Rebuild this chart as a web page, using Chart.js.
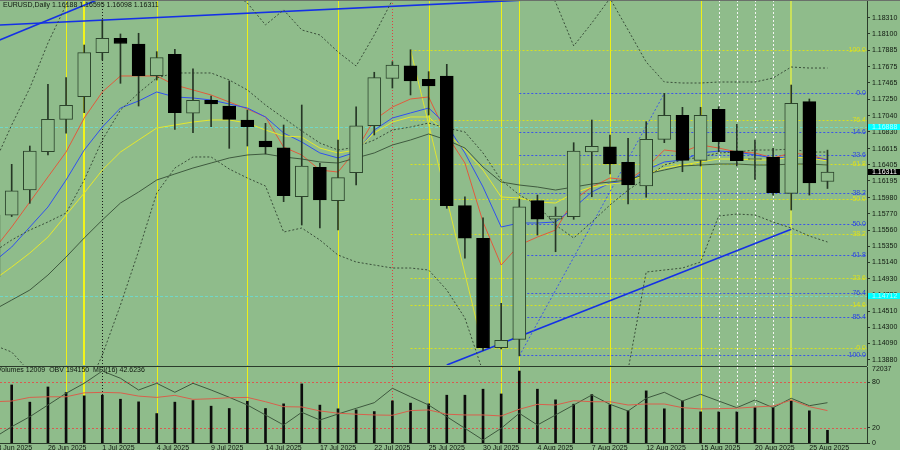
<!DOCTYPE html>
<html lang="en">
<head>
  <meta charset="UTF-8">
  <title>EURUSD,Daily</title>
  <script src="https://cdn.jsdelivr.net/npm/chart.js"></script>
  <style>
    html, body { margin: 0; padding: 0; background: #8fbc8b; }
    #wrap { position: relative; width: 900px; height: 450px; overflow: hidden; }
    #priceChart { position: absolute; left: 0; top: 0; }
    #volChart { position: absolute; left: 0; top: 366px; }
  </style>
</head>
<body>
  <div id="wrap">
    <canvas id="priceChart" width="900" height="366"></canvas>
    <canvas id="volChart" width="900" height="84"></canvas>
  </div>

  <script>
    const days = ['23 Jun 2025', '24 Jun 2025', '25 Jun 2025', '26 Jun 2025', '27 Jun 2025', '30 Jun 2025',
      '1 Jul 2025', '2 Jul 2025', '3 Jul 2025', '4 Jul 2025', '7 Jul 2025', '8 Jul 2025', '9 Jul 2025', '10 Jul 2025', '11 Jul 2025',
      '14 Jul 2025', '15 Jul 2025', '16 Jul 2025', '17 Jul 2025', '18 Jul 2025', '21 Jul 2025', '22 Jul 2025', '23 Jul 2025', '24 Jul 2025', '25 Jul 2025',
      '28 Jul 2025', '29 Jul 2025', '30 Jul 2025', '31 Jul 2025', '1 Aug 2025', '4 Aug 2025', '5 Aug 2025', '6 Aug 2025', '7 Aug 2025', '8 Aug 2025',
      '11 Aug 2025', '12 Aug 2025', '13 Aug 2025', '14 Aug 2025', '15 Aug 2025', '18 Aug 2025', '19 Aug 2025', '20 Aug 2025', '21 Aug 2025', '22 Aug 2025',
      '25 Aug 2025', '26 Aug 2025'];

    const opens = [1.14955, 1.15754, 1.16078, 1.16574, 1.16994, 1.17287, 1.17857, 1.18043, 1.17969, 1.17559,
      1.17836, 1.17072, 1.17240, 1.17166, 1.16985, 1.16713, 1.16626, 1.15991, 1.16372, 1.15940,
      1.16302, 1.16911, 1.17525, 1.17688, 1.17512, 1.17555, 1.15875, 1.15453, 1.14036, 1.14144,
      1.15940, 1.15699, 1.15732, 1.16570, 1.16639, 1.16437, 1.16130, 1.16735, 1.17046, 1.16463,
      1.17124, 1.16587, 1.16473, 1.16502, 1.16035, 1.17222, 1.16188];
    const highs = [1.15884, 1.16411, 1.16648, 1.17447, 1.17533, 1.17956, 1.18280, 1.18099, 1.18108, 1.17870,
      1.17901, 1.17646, 1.17296, 1.17490, 1.17114, 1.16942, 1.16920, 1.17179, 1.16424, 1.16726,
      1.17157, 1.17603, 1.17740, 1.17895, 1.17611, 1.17706, 1.15991, 1.15719, 1.14611, 1.15962,
      1.16013, 1.15858, 1.16691, 1.16985, 1.16791, 1.16748, 1.16963, 1.17330, 1.17149, 1.17149,
      1.17157, 1.16929, 1.16726, 1.16618, 1.17438, 1.17257, 1.16595];
    const lows = [1.14848, 1.15735, 1.15906, 1.16532, 1.16813, 1.17080, 1.17762, 1.17460, 1.17166, 1.17503,
      1.16864, 1.16820, 1.16898, 1.16618, 1.16648, 1.16545, 1.15927, 1.15625, 1.15586, 1.15560,
      1.16143, 1.16791, 1.17399, 1.17309, 1.17050, 1.15841, 1.15194, 1.14000, 1.14019, 1.13930,
      1.15495, 1.15279, 1.15699, 1.15991, 1.16285, 1.15897, 1.15984, 1.16691, 1.16315, 1.16389,
      1.16574, 1.16389, 1.16217, 1.16013, 1.15819, 1.16013, 1.16098];
    const closes = [1.15754, 1.16069, 1.16583, 1.16994, 1.17175, 1.17857, 1.18043, 1.17976, 1.17559, 1.17792,
      1.17080, 1.17240, 1.17192, 1.16994, 1.16898, 1.16635, 1.16004, 1.16389, 1.15949, 1.16238,
      1.16911, 1.17533, 1.17697, 1.17490, 1.17425, 1.15875, 1.15453, 1.14036, 1.14131, 1.15862,
      1.15699, 1.15741, 1.16583, 1.16644, 1.16415, 1.16143, 1.16735, 1.17046, 1.16463, 1.17046,
      1.16704, 1.16458, 1.16486, 1.16043, 1.17201, 1.16169, 1.16311];

    // moving averages and envelope
    const maRed = [1.15301, 1.15599, 1.15923, 1.16247, 1.16570, 1.17011, 1.17348, 1.17555, 1.17555, 1.17555,
      1.17438, 1.17374, 1.17309, 1.17218, 1.17127, 1.17024, 1.16635, 1.16532, 1.16337, 1.16311,
      1.16596, 1.16985, 1.17153, 1.17257, 1.17283, 1.16791, 1.16428, 1.15664, 1.15107, 1.15366,
      1.15469, 1.15560, 1.15949, 1.16117, 1.16234, 1.16208, 1.16363, 1.16596, 1.16570, 1.16661,
      1.16622, 1.16570, 1.16558, 1.16493, 1.16558, 1.16532, 1.16467];
    const maBlue = [1.15146, 1.15340, 1.15599, 1.15858, 1.16208, 1.16596, 1.16894, 1.17140, 1.17231, 1.17348,
      1.17283, 1.17270, 1.17244, 1.17192, 1.17140, 1.17024, 1.16817, 1.16700, 1.16558, 1.16493,
      1.16570, 1.16855, 1.17011, 1.17076, 1.17140, 1.16920, 1.16558, 1.16117, 1.15599, 1.15651,
      1.15651, 1.15664, 1.15845, 1.16052, 1.16169, 1.16182, 1.16337, 1.16441, 1.16467, 1.16558,
      1.16583, 1.16570, 1.16532, 1.16493, 1.16506, 1.16506, 1.16467];
    const maYellow = [1.14912, 1.15081, 1.15262, 1.15469, 1.15754, 1.16039, 1.16337, 1.16570, 1.16726, 1.16881,
      1.16920, 1.16959, 1.16985, 1.16985, 1.16946, 1.16855, 1.16778, 1.16765, 1.16622, 1.16558,
      1.16596, 1.16817, 1.16959, 1.17024, 1.17024, 1.16817, 1.16596, 1.16337, 1.15988, 1.15975,
      1.15923, 1.15910, 1.16039, 1.16117, 1.16156, 1.16182, 1.16286, 1.16363, 1.16402, 1.16441,
      1.16480, 1.16480, 1.16467, 1.16467, 1.16506, 1.16493, 1.16454];
    const maSlow = [1.14524, 1.14653, 1.14783, 1.14977, 1.15210, 1.15457, 1.15690, 1.15910, 1.16052, 1.16208,
      1.16286, 1.16363, 1.16428, 1.16493, 1.16532, 1.16545, 1.16506, 1.16480, 1.16441, 1.16428,
      1.16493, 1.16558, 1.16661, 1.16726, 1.16804, 1.16726, 1.16622, 1.16376, 1.16182, 1.16143,
      1.16117, 1.16078, 1.16117, 1.16156, 1.16182, 1.16208, 1.16286, 1.16337, 1.16389, 1.16402,
      1.16415, 1.16415, 1.16402, 1.16402, 1.16415, 1.16415, 1.16402];
    const bandUpper = [1.16402, 1.16920, 1.17399, 1.17982, 1.18475, 1.18928, 1.19317, 1.19576, 1.19705, 1.19705,
      1.19576, 1.19317, 1.19057, 1.18669, 1.18500, 1.18216, 1.18410, 1.18151, 1.18086, 1.17866,
      1.17684, 1.18086, 1.18539, 1.18928, 1.19187, 1.19317, 1.19446, 1.19317, 1.19187, 1.19057,
      1.18798, 1.18513, 1.17944, 1.18241, 1.18560, 1.18151, 1.17736, 1.17477, 1.17464, 1.17464,
      1.17477, 1.17477, 1.17477, 1.17529, 1.17671, 1.17658, 1.17658];
    const bandMid = [1.15275, 1.15431, 1.15560, 1.15664, 1.15780, 1.16208, 1.16726, 1.17114, 1.17335, 1.17529,
      1.17594, 1.17594, 1.17594, 1.17503, 1.17374, 1.17179, 1.17011, 1.16843, 1.16687, 1.16596,
      1.16635, 1.16726, 1.16855, 1.16894, 1.16946, 1.16881, 1.16830, 1.16558, 1.16208, 1.16014,
      1.15884, 1.15625, 1.15457, 1.15664, 1.15884, 1.16078, 1.16234, 1.16402, 1.16467, 1.16506,
      1.16558, 1.16570, 1.16596, 1.16596, 1.16609, 1.16570, 1.16570];
    const bandLower = [1.14071, 1.13980, 1.13721, 1.13423, 1.13229, 1.13423, 1.13941, 1.14589, 1.15288, 1.16039,
      1.16363, 1.16506, 1.16506, 1.16350, 1.16234, 1.16130, 1.15534, 1.15586, 1.15431, 1.15236,
      1.15146, 1.15107, 1.15068, 1.15068, 1.15042, 1.14783, 1.14420, 1.13721, 1.13099, 1.12840,
      1.12840, 1.12970, 1.13099, 1.13229, 1.13358, 1.13747, 1.15016, 1.15042, 1.15068, 1.15146,
      1.15742, 1.15767, 1.15754, 1.15664, 1.15586, 1.15482, 1.15405];

    const volumes = [42000, 55000, 38700, 53100, 47800, 44700, 45300, 41500, 39000, 27900,
      38700, 40200, 34900, 32700, 39600, 32700, 37100, 56000, 35900, 32400,
      31400, 29800, 39900, 37800, 37100, 45300, 45300, 51000, 46500, 68200,
      51000, 40900, 36800, 45900, 36200, 30500, 49400, 32400, 39900, 29500,
      29500, 29500, 33600, 33600, 39900, 30500, 12009];
    const obv = [49400, 95750, 136750, 184700, 232700, 273700, 324100, 294200, 246200, 273700,
      236800, 273700, 246200, 216300, 184700, 143700, 102700, 154800, 123200, 147800,
      171200, 194150, 253200, 218700, 184700, 136750, 89200, 41200, 89200, 150700,
      102700, 143700, 184700, 225700, 187600, 160100, 212200, 236800, 201100, 228600,
      201100, 173700, 205200, 173700, 212200, 181850, 194150];
    const mfi = [54.3, 55.2, 60.0, 60.8, 60.8, 66.0, 66.6, 66.0, 61.7, 60.0,
      62.7, 57.4, 58.2, 59.5, 60.0, 54.3, 47.8, 47.4, 42.2, 39.2,
      37.9, 36.9, 36.5, 42.6, 43.5, 37.9, 36.9, 36.9, 35.6, 44.4,
      50.9, 50.0, 55.6, 54.3, 54.3, 50.0, 51.3, 51.3, 46.5, 44.8,
      45.2, 45.7, 47.4, 48.7, 56.5, 47.8, 42.62];

    const priceTicks = [1.18310, 1.18100, 1.17885, 1.17675, 1.17465, 1.17250, 1.17040, 1.16830, 1.16615, 1.16405,
      1.16195, 1.15980, 1.15770, 1.15560, 1.15350, 1.15140, 1.14930, 1.14720, 1.14510, 1.14300, 1.14090, 1.13880];
    const dateTickBars = [0, 3, 6, 9, 12, 15, 18, 21, 24, 27, 30, 33, 36, 39, 42, 45];
    const mfiTicks = [0, 20, 80];
    const mfiLevels = [80, 20];

    // drawn objects: [bar, price] pairs
    const trendSolid = [[[0, 1.18212], [30, 1.18547]], [[0, 1.17987], [6, 1.18568]], [[25, 1.13812], [44, 1.15569]]];
    const fibYellowTrend = [[23, 1.17895], [27, 1.14030]];
    const fibBlueTrend = [[29, 1.13930], [37, 1.17330]];
    const fibYellowLevels = [0, 14.6, 23.6, 38.2, 50, 61.8, 76.4, 100];
    const fibBlueLevels = [0, 14.6, 23.6, 38.2, 50, 61.8, 76.4, 85.4, 100];
    const fibYellowRange = [23, 1.14030, 1.17895];  // start bar, 0 level, 100 level
    const fibBlueRange = [29, 1.17330, 1.13940];
    const alertLevels = [1.16888, 1.14712];

    const yellowMarks = [4, 9, 14, 19, 24, 28, 29, 34, 39];
    const yellowWide = [5];
    const paleWide = [44];
    const whiteMarks = [40, 41, 42, 43];
    const blackMarks = [6];
    const redMarks = [22];

    const BG = '#8fbc8b';
    const FONT = '"Liberation Sans", Arial, sans-serif';
    const TXT = '#101810';
    const X_MIN = 0.355, X_MAX = 48.18;
    const PRICE_MIN = 1.13812, PRICE_MAX = 1.18539;

    const pts = arr => arr.map((v, i) => ({ x: i, y: v }));
    const pairPts = pair => pair.map(p => ({ x: p[0], y: p[1] }));

    function markLines(ctx, xs, area, bars, color, width, dash) {
      ctx.save();
      ctx.strokeStyle = color;
      ctx.lineWidth = width;
      ctx.setLineDash(dash);
      bars.forEach(b => {
        const px = Math.round(xs.getPixelForValue(b)) + (width % 2 ? 0.5 : 0);
        ctx.beginPath();
        ctx.moveTo(px, area.top);
        ctx.lineTo(px, area.bottom);
        ctx.stroke();
      });
      ctx.restore();
    }

    function allMarks(ctx, xs, area) {
      markLines(ctx, xs, area, yellowMarks, '#eef018', 1, []);
      markLines(ctx, xs, area, yellowWide, '#f2f41c', 2, []);
      markLines(ctx, xs, area, paleWide, '#c8e05c', 2, []);
      markLines(ctx, xs, area, whiteMarks, '#f4f4f4', 1, [2, 2]);
      markLines(ctx, xs, area, blackMarks, '#1a1a1a', 1, [1, 2]);
      markLines(ctx, xs, area, redMarks, '#e04040', 1, [1, 2]);
    }

    function fibPrice(range, lv) {
      return range[1] + (range[2] - range[1]) * lv / 100;
    }

    // small price tag on the axis, text clipped to the box like the terminal does
    function axisTag(ctx, left, py, fill, textColor, text) {
      ctx.save();
      ctx.fillStyle = fill;
      ctx.fillRect(left, py - 3, 900 - left, 6);
      ctx.beginPath();
      ctx.rect(left, py - 3, 900 - left, 6);
      ctx.clip();
      ctx.fillStyle = textColor;
      ctx.fillText(text, left + 4, py + 0.5);
      ctx.restore();
    }

    const priceDecor = {
      id: 'priceDecor',
      beforeDatasetsDraw(chart) {
        const { ctx, chartArea: a, scales: { x, y } } = chart;
        ctx.save();
        ctx.beginPath();
        ctx.rect(a.left, a.top, a.right - a.left, a.bottom - a.top);
        ctx.clip();
        allMarks(ctx, x, a);
        ctx.strokeStyle = '#70d8c8';
        ctx.lineWidth = 1;
        ctx.setLineDash([3, 2]);
        alertLevels.forEach(p => {
          const py = Math.round(y.getPixelForValue(p)) + 0.5;
          ctx.beginPath(); ctx.moveTo(a.left, py); ctx.lineTo(a.right, py); ctx.stroke();
        });
        ctx.setLineDash([2, 2]);
        [[fibYellowRange, fibYellowLevels, '#d8e020'], [fibBlueRange, fibBlueLevels, '#3c56e8']].forEach(([rg, lvls, col]) => {
          ctx.strokeStyle = col;
          const x0 = x.getPixelForValue(rg[0]);
          lvls.forEach(lv => {
            const py = Math.round(y.getPixelForValue(fibPrice(rg, lv))) + 0.5;
            ctx.beginPath(); ctx.moveTo(x0, py); ctx.lineTo(a.right, py); ctx.stroke();
          });
        });
        ctx.restore();
      },
      afterDraw(chart) {
        const { ctx, chartArea: a, scales: { y } } = chart;
        ctx.save();
        ctx.font = '7px ' + FONT;
        ctx.textBaseline = 'middle';
        ctx.textAlign = 'right';
        [[fibYellowRange, fibYellowLevels, '#dce020'], [fibBlueRange, fibBlueLevels, '#2c46e0']].forEach(([rg, lvls, col]) => {
          ctx.fillStyle = col;
          lvls.forEach(lv => {
            ctx.fillText(lv.toFixed(1), a.right - 1, y.getPixelForValue(fibPrice(rg, lv)));
          });
        });
        ctx.textAlign = 'left';
        alertLevels.forEach(p => {
          axisTag(ctx, a.right + 1, Math.round(y.getPixelForValue(p)), '#00ffff', '#b8ffff', p.toFixed(5));
        });
        const last = closes[closes.length - 1];
        axisTag(ctx, a.right + 1, Math.round(y.getPixelForValue(last)), '#000', '#fff', last.toFixed(5));
        ctx.fillStyle = TXT;
        ctx.fillText('EURUSD,Daily 1.16188 1.16595 1.16098 1.16311', 3, 5);
        ctx.fillStyle = '#6a706a';
        ctx.fillRect(0, 0, 900, 1);
        ctx.restore();
      }
    };

    const candleDatasets = [
      {
        label: 'body',
        data: days.map((d, i) => ({ x: i, y: [opens[i], closes[i]] })),
        grouped: false,
        barThickness: 13,
        backgroundColor: c => closes[c.dataIndex] >= opens[c.dataIndex] ? BG : '#000',
        borderColor: c => closes[c.dataIndex] >= opens[c.dataIndex] ? '#2c442c' : '#000',
        borderWidth: 1,
        borderSkipped: false,
        order: 0
      },
      {
        label: 'wick',
        data: days.map((d, i) => ({ x: i, y: [lows[i], highs[i]] })),
        grouped: false,
        barThickness: 1,
        backgroundColor: '#263626',
        order: 1
      }
    ];

    function lineSet(label, data, color, width, dash) {
      return { type: 'line', label: label, data: data, borderColor: color, borderWidth: width,
        borderDash: dash || [], pointRadius: 0, tension: 0, fill: false, order: 2 };
    }

    const priceLines = [
      lineSet('band upper', pts(bandUpper), '#3a4e3a', 1, [2, 2]),
      lineSet('band middle', pts(bandMid), '#3a4e3a', 1, [2, 2]),
      lineSet('band lower', pts(bandLower), '#3a4e3a', 1, [2, 2]),
      lineSet('MA slow', pts(maSlow), '#3f5a3f', 1),
      lineSet('MA yellow', pts(maYellow), '#e6e82c', 1),
      lineSet('MA blue', pts(maBlue), '#3050f0', 1),
      lineSet('MA red', pts(maRed), '#e25a3c', 1),
      lineSet('fibo yellow', pairPts(fibYellowTrend), '#e0e430', 1),
      lineSet('fibo blue', pairPts(fibBlueTrend), '#3c56e8', 1, [2, 2])
    ].concat(trendSolid.map((t, k) => lineSet('trend ' + k, pairPts(t), '#1430e6', 1.6)));

    new Chart(document.getElementById('priceChart'), {
      type: 'bar',
      data: { datasets: candleDatasets.concat(priceLines) },
      options: {
        responsive: false,
        animation: false,
        events: [],
        layout: { padding: { left: 0, right: 0, top: 0, bottom: 1 } },
        plugins: { legend: { display: false }, tooltip: { enabled: false } },
        scales: {
          x: { type: 'linear', min: X_MIN, max: X_MAX, offset: false, display: false },
          y: {
            position: 'right',
            min: PRICE_MIN,
            max: PRICE_MAX,
            afterBuildTicks: s => { s.ticks = priceTicks.map(v => ({ value: v })); },
            afterFit: s => { s.width = 33; s.paddingTop = 0; s.paddingBottom = 0; },
            grid: { display: true, drawOnChartArea: false, tickLength: 3, color: '#2b3b2b' },
            border: { display: true, color: '#2b3b2b' },
            ticks: { color: TXT, font: { family: FONT, size: 7 }, padding: 2, crossAlign: 'near', autoSkip: false,
              callback: v => v.toFixed(5) }
          }
        }
      },
      plugins: [priceDecor]
    });

    const volDecor = {
      id: 'volDecor',
      beforeDatasetsDraw(chart) {
        const { ctx, chartArea: a, scales: { x, ym } } = chart;
        ctx.save();
        ctx.beginPath();
        ctx.rect(a.left, a.top, a.right - a.left, a.bottom - a.top);
        ctx.clip();
        allMarks(ctx, x, a);
        ctx.strokeStyle = '#d85a50';
        ctx.lineWidth = 1;
        ctx.setLineDash([2, 2]);
        mfiLevels.forEach(v => {
          const py = Math.round(ym.getPixelForValue(v)) + 0.5;
          ctx.beginPath(); ctx.moveTo(a.left, py); ctx.lineTo(a.right, py); ctx.stroke();
        });
        ctx.restore();
      },
      afterDraw(chart) {
        const { ctx, chartArea: a } = chart;
        ctx.save();
        ctx.fillStyle = '#2b3b2b';
        ctx.fillRect(0, 0, a.right, 1);
        ctx.font = '7px ' + FONT;
        ctx.textBaseline = 'middle';
        ctx.fillStyle = TXT;
        ctx.fillText('Volumes 12009  OBV 194150  MFI(16) 42.6236', -3, 4);
        ctx.fillText('72037', a.right + 5, 3);
        ctx.restore();
      }
    };

    new Chart(document.getElementById('volChart'), {
      type: 'bar',
      data: {
        datasets: [
          { type: 'line', label: 'MFI(16)', data: pts(mfi), yAxisID: 'ym', borderColor: '#d8604c', borderWidth: 1,
            pointRadius: 0, tension: 0, order: 0 },
          { type: 'line', label: 'OBV', data: pts(obv), yAxisID: 'yo', borderColor: '#3e583e', borderWidth: 1,
            pointRadius: 0, tension: 0, order: 0 },
          { label: 'Volumes', data: pts(volumes), yAxisID: 'yv', grouped: false, barThickness: 2,
            backgroundColor: '#0c0c0c', order: 1 }
        ]
      },
      options: {
        responsive: false,
        animation: false,
        events: [],
        layout: { padding: { left: 0, right: 0, top: 1, bottom: 0 } },
        plugins: { legend: { display: false }, tooltip: { enabled: false } },
        scales: {
          x: {
            type: 'linear', min: X_MIN, max: X_MAX, offset: false, position: 'bottom',
            afterBuildTicks: s => { s.ticks = dateTickBars.map(v => ({ value: v })); },
            afterFit: s => { s.height = 7; s.paddingLeft = 0; s.paddingRight = 0; },
            grid: { display: true, drawOnChartArea: false, tickLength: 1, color: '#2b3b2b' },
            border: { display: true, color: '#2b3b2b' },
            ticks: { autoSkip: false, maxRotation: 0, align: 'start', padding: 0, color: TXT,
              font: { family: FONT, size: 7 }, callback: v => days[v] }
          },
          ym: {
            position: 'right', min: 0, max: 100,
            afterBuildTicks: s => { s.ticks = mfiTicks.map(v => ({ value: v })); },
            afterFit: s => { s.width = 33; s.paddingTop = 0; s.paddingBottom = 0; },
            grid: { display: true, drawOnChartArea: false, tickLength: 3, color: '#2b3b2b' },
            border: { display: true, color: '#2b3b2b' },
            ticks: { color: TXT, font: { family: FONT, size: 7 }, padding: 2, crossAlign: 'near' }
          },
          yv: { display: false, min: 0, max: 72037 },
          yo: { display: false, min: 28900, max: 340500 }
        }
      },
      plugins: [volDecor]
    });
  </script>
</body>
</html>
